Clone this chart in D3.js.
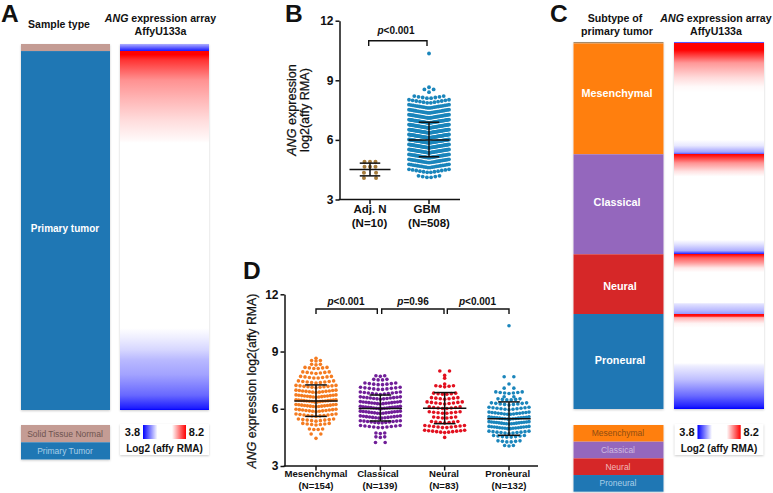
<!DOCTYPE html>
<html><head><meta charset="utf-8">
<script src="https://cdn.jsdelivr.net/npm/d3@7"></script>
<style>
html,body{margin:0;padding:0;background:#fff}
svg{display:block}
text{font-family:"Liberation Sans",Arial,sans-serif;fill:#111}
.axis path,.axis line{stroke:#111;stroke-width:1.5px}
.axis text{font-family:"Liberation Sans",Arial,sans-serif;font-weight:700;font-size:12px;fill:#111}
</style></head><body>
<svg id="c" width="773" height="493"></svg>
<script>
// ---------- Data ----------
const axisTicks = [3, 6, 9, 12];

const sampleCountsA = [10, 508];
const sampleNamesA = ["Solid Tissue Normal", "Primary Tumor"];
const heatRanksA  = [0, 9.9, 10, 15, 23, 51, 79, 108, 136, 140, 402, 416, 433, 447, 468, 497, 515.5, 518];
const heatValuesA = [5.3, 4.0, 8.2, 8.2, 7.75, 6.95, 6.62, 6.3, 6.05, 6.0, 6.0, 5.85, 5.65, 5.4, 5.2, 4.7, 4.05, 3.8];

const subtypeNames = ["Mesenchymal", "Classical", "Neural", "Proneural"];
const subtypeCountsC = [2, 154, 139, 83, 132];
const heatRanksC = [0, 1.9, 2, 11, 29, 49, 62, 70, 136, 144, 153, 155.9,
  156, 159, 168, 180, 187, 275, 281, 290, 294.9,
  295, 300, 307, 314, 320, 362, 364, 373, 377.9,
  378, 381, 383, 391, 397, 446, 450, 469, 492, 506, 510];
const heatValuesC = [5.0, 3.8, 8.2, 8.2, 6.9, 6.33, 6.05, 6.0, 6.0, 5.8, 5.2, 4.5,
  8.2, 7.9, 6.95, 6.25, 6.0, 6.0, 5.75, 5.3, 4.0,
  8.2, 7.4, 6.85, 6.2, 6.0, 6.0, 5.75, 5.4, 5.1,
  8.2, 8.0, 6.7, 6.1, 6.0, 6.0, 5.85, 5.45, 4.7, 4.1, 3.8];

const groupsB = ["Adj. N", "GBM"];
const groupNB = ["(N=10)", "(N=508)"];
const adjLevels = [4.08, 4.35, 4.65, 4.9];
const adjCounts = [2, 2, 3, 3];
const gbmLevels = [4.1,4.35,4.6,4.85,5.1,5.35,5.6,5.85,6.1,6.35,6.6,6.85,7.1,7.35,7.6,7.85,8.08,8.4,8.5,8.65,10.35];
const gbmCounts = [6,12,20,26,32,40,44,48,49,46,42,38,34,26,20,12,8,1,2,1,1];
const meansB = [4.51, 5.99];
const upperB = [4.83, 6.89];
const lowerB = [4.19, 5.15];

const groupsD = ["Mesenchymal", "Classical", "Neural", "Proneural"];
const groupND = ["(N=154)", "(N=139)", "(N=83)", "(N=132)"];
const mesLevels = [4.45,4.65,4.9,5.15,5.35,5.6,5.85,6.1,6.35,6.6,6.85,7.1,7.35,7.6,7.85,8.1,8.3,8.5,8.65];
const mesCounts = [1,2,4,7,9,11,13,15,16,15,13,11,9,8,7,6,3,3,1];
const claLevels = [4.2,4.5,4.7,5.0,5.25,5.5,5.75,6.0,6.25,6.5,6.75,7.0,7.25,7.5,7.7];
const claCounts = [2,3,3,10,12,14,15,16,15,13,11,10,8,4,3];
const neuLevels = [4.5,4.75,5.0,5.25,5.5,5.75,6.0,6.25,6.5,6.75,7.15,7.3,7.6,7.75,7.95];
const neuCounts = [1,11,10,7,6,8,8,9,7,6,5,1,1,1,2];
const proLevels = [4.05,4.25,4.5,4.7,4.95,5.2,5.45,5.7,5.95,6.2,6.45,6.6,6.8,7.05,7.3,7.65,10.35];
const proCounts = [3,6,8,11,16,17,16,14,11,9,6,2,7,2,1,2,1];
const meansD = [6.41, 6.02, 6.03, 5.48];
const upperD = [7.25, 6.72, 6.85, 6.36];
const lowerD = [5.60, 5.36, 5.22, 4.61];

// ---------- Styles ----------
const subtypeFill = ["#ff7f0e", "#9467bd", "#d62728", "#1f77b4"];
const dotFillB = ["#a67c3c", "#1a85bb"];
const dotFillD = ["#f47b20", "#701e98", "#e2101f", "#1a85bb"];
const soft = "drop-shadow(0 1px 1px rgba(0,0,0,.2))";

const svg = d3.select("#c");
const defs = svg.append("defs");
const heatColor = d3.scaleLinear().domain([3.8, 6.0, 8.2]).range(["#0000ff", "#ffffff", "#ff0000"]).clamp(true);

function label(x, y, parts, size, opts = {}) {
  const t = svg.append("text").attr("x", x).attr("y", y)
    .attr("text-anchor", opts.anchor || "middle").attr("font-size", size)
    .attr("font-weight", opts.weight || 700).style("fill", opts.fill || "#111");
  if (opts.rotate) t.attr("transform", `rotate(-90 ${x} ${y})`);
  if (opts.stroke) t.style("stroke", opts.fill || "#111").style("stroke-width", opts.stroke);
  parts.forEach(p => {
    const s = t.append("tspan").text(p[0]);
    if (p[1]) s.attr("font-style", "italic");
  });
  return t;
}

function card(x, y0, w, y1) {
  svg.append("rect").attr("x", x).attr("y", y0).attr("width", w).attr("height", y1 - y0).attr("fill", "#fff").style("filter", soft);
}

function heatTrack(id, x, w, y0, y1, ranks, values) {
  card(x, y0, w, y1);
  const total = ranks[ranks.length - 1];
  const g = defs.append("linearGradient").attr("id", id).attr("x1", 0).attr("x2", 0).attr("y1", 0).attr("y2", 1);
  ranks.forEach((r, i) => g.append("stop").attr("offset", r / total).attr("stop-color", heatColor(values[i])));
  svg.append("rect").attr("x", x).attr("y", y0).attr("width", w).attr("height", y1 - y0).attr("fill", `url(#${id})`);
}

function stacked(x, w, y0, y1, counts, fills) {
  card(x, y0, w, y1);
  const y = d3.scaleLinear().domain([0, d3.sum(counts)]).range([y0, y1]);
  let c = 0;
  const out = [];
  counts.forEach((n, i) => {
    svg.append("rect").attr("x", x).attr("width", w).attr("y", y(c)).attr("height", y(c + n) - y(c)).attr("fill", fills[i]);
    out.push((y(c) + y(c + n)) / 2);
    c += n;
  });
  return out;
}

function heatLegend(id, cardX, xLow, xHigh) {
  card(cardX, 424, 89, 455);
  const low = defs.append("linearGradient").attr("id", id + "l");
  [3.8, 6.0].forEach((v, i) => low.append("stop").attr("offset", i).attr("stop-color", heatColor(v)));
  const high = defs.append("linearGradient").attr("id", id + "h");
  [6.0, 8.2].forEach((v, i) => high.append("stop").attr("offset", i).attr("stop-color", heatColor(v)));
  svg.append("rect").attr("x", xLow).attr("y", 425).attr("width", 14.5).attr("height", 14).attr("fill", `url(#${id}l)`);
  svg.append("rect").attr("x", xHigh).attr("y", 425).attr("width", 14).attr("height", 14).attr("fill", `url(#${id}h)`);
  label(xLow - 10.5, 436, [["3.8"]], 11);
  label(xHigh + 24.5, 436, [["8.2"]], 11);
  label(cardX + 44.5, 452, [["Log2 (affy RMA)"]], 10);
}

// Panel A
label(1, 22, [["A"]], 24.5, {anchor: "start"});
label(59, 28, [["Sample type"]], 10.5);
label(160.5, 22, [["ANG", true], [" expression array"]], 10.6);
label(160.5, 35, [["AffyU133a"]], 10.6);
stacked(21, 89, 44, 410, sampleCountsA, ["#c49c94", "#1f77b4"]);
heatTrack("hA", 120, 89, 44, 410, heatRanksA, heatValuesA);
label(65, 232, [["Primary tumor"]], 10, {fill: "#fff"});
stacked(21, 89, 425, 459.5, [1, 1], ["#c49c94", "#1f77b4"]);
label(65, 437, [[sampleNamesA[0]]], 8.5, {weight: 400, fill: "#6e5450"});
label(65, 453.5, [[sampleNamesA[1]]], 8.5, {weight: 400, fill: "#a9cfe8"});
heatLegend("la", 120, 143, 172);

// Panel C
label(550, 22, [["C"]], 24.5, {anchor: "start"});
label(615, 22, [["Subtype of"]], 10.6);
label(617, 35, [["primary tumor"]], 10.6);
label(716, 22, [["ANG", true], [" expression array"]], 10.6);
label(716, 35, [["AffyU133a"]], 10.6);
stacked(573.5, 90, 42, 409, subtypeCountsC, ["#a58a6a"].concat(subtypeFill));
heatTrack("hC", 674, 90, 42, 409, heatRanksC, heatValuesC);
const nameX = [617, 617, 620, 620], nameY = [96.5, 205.5, 289.5, 363.5];
subtypeNames.forEach((n, i) => label(nameX[i], nameY[i], [[n]], 10.8, {fill: "#fff"}));
const legY = stacked(573.5, 90, 425, 491.7, [1, 1, 1, 1], subtypeFill);
const legInk = ["#8f4d12", "#cdbbe0", "#f2b9ba", "#a9cfe8"];
subtypeNames.forEach((n, i) => label(618, legY[i] + 3, [[n]], 8.5, {weight: 400, fill: legInk[i]}));
heatLegend("lc", 674.5, 697.5, 726.7);

// Swarm helpers
function swarmPoints(levels, counts, dx, maxW) {
  const pts = [];
  levels.forEach((v, k) => {
    const n = counts[k];
    const d = n === 2 ? dx * 2.2 : n > 1 ? Math.min(dx, maxW / (n - 1)) : 0;
    for (let i = 0; i < n; i++) pts.push({v, off: (i - (n - 1) / 2) * d});
  });
  return pts;
}
function swarm(cx, y, levels, counts, fill, r, dx, maxW, curve) {
  svg.append("g").selectAll("circle").data(swarmPoints(levels, counts, dx, maxW)).join("circle")
    .attr("cx", d => cx + d.off).attr("cy", d => y(d.v) - curve * Math.abs(d.off))
    .attr("r", r).attr("fill", fill);
}
function errorBars(cx, y, mean, up, low, half) {
  const g = svg.append("g").attr("stroke", "#111").attr("stroke-width", 1.5);
  g.append("line").attr("x1", cx - half).attr("x2", cx + half).attr("y1", y(mean)).attr("y2", y(mean));
  [up, low].forEach(v => g.append("line").attr("x1", cx - half / 2).attr("x2", cx + half / 2).attr("y1", y(v)).attr("y2", y(v)));
  g.append("line").attr("x1", cx).attr("x2", cx).attr("y1", y(up)).attr("y2", y(low));
}
function bracket(x0, x1, yTop, yEnd) {
  svg.append("path").attr("d", `M${x0},${yEnd}V${yTop}H${x1}V${yEnd}`).attr("fill", "none").attr("stroke", "#111").attr("stroke-width", 1.4);
}
function axes(x0, x1, yScale, xScale, groups) {
  svg.append("g").attr("class", "axis").attr("transform", `translate(${x0},0)`)
    .call(d3.axisLeft(yScale).tickValues(axisTicks).tickSize(4).tickPadding(2).tickSizeOuter(0));
  svg.append("line").attr("x1", x0 - 0.75).attr("x2", x1).attr("y1", yScale(3)).attr("y2", yScale(3)).attr("stroke", "#111").attr("stroke-width", 1.5);
  groups.forEach(g => svg.append("line").attr("x1", xScale(g)).attr("x2", xScale(g)).attr("y1", yScale(3)).attr("y2", yScale(3) + 4.5).attr("stroke", "#111").attr("stroke-width", 1.5));
}

// Panel B
label(285, 22, [["B"]], 24.5, {anchor: "start"});
const yB = d3.scaleLinear().domain([3, 12]).range([199.5, 20.7]);
const xB = d3.scalePoint().domain(groupsB).range([370, 429]);
axes(339.5, 460, yB, xB, groupsB);
swarm(xB(groupsB[0]), yB, adjLevels, adjCounts, dotFillB[0], 2, 5.5, 40, 0);
swarm(xB(groupsB[1]), yB, gbmLevels, gbmCounts, dotFillB[1], 1.9, 4.2, 40, 0.17);
groupsB.forEach((g, i) => errorBars(xB(g), yB, meansB[i], upperB[i], lowerB[i], 20.5));
bracket(368.7, 427, 40.7, 46);
label(396, 34, [["p", true], ["<0.001"]], 10);
label(296, 110, [["ANG", true], [" expression"]], 12.6, {weight: 400, rotate: true, stroke: 0.25});
label(309, 110, [["log2(affy RMA)"]], 12.6, {weight: 400, rotate: true, stroke: 0.25});
label(370, 213, [[groupsB[0]]], 11.5);
label(369.5, 227, [[groupNB[0]]], 11.5);
label(427, 213, [[groupsB[1]]], 11.5);
label(429, 227, [[groupNB[1]]], 11.5);

// Panel D
label(243, 279, [["D"]], 24.5, {anchor: "start"});
const yD = d3.scaleLinear().domain([3, 12]).range([466, 294.3]);
const xD = d3.scalePoint().domain(groupsD).range([316, 509]);
axes(284.5, 538, yD, xD, groupsD);
const swarmLevels = [mesLevels, claLevels, neuLevels, proLevels];
const swarmCounts = [mesCounts, claCounts, neuCounts, proCounts];
groupsD.forEach((g, i) => {
  swarm(xD(g), yD, swarmLevels[i], swarmCounts[i], dotFillD[i], 1.8, 4.4, 40, 0.12);
  errorBars(xD(g), yD, meansD[i], upperD[i], lowerD[i], 21.7);
});
bracket(316, 377.3, 309, 314);
bracket(381.7, 444, 309, 314);
bracket(447.3, 509, 309, 314);
label(346, 304.5, [["p", true], ["<0.001"]], 10);
label(413, 304.5, [["p", true], ["=0.96"]], 10);
label(477.5, 304.5, [["p", true], ["<0.001"]], 10);
label(256, 381, [["ANG", true], [" expression log2(affy RMA)"]], 12.3, {weight: 400, rotate: true, stroke: 0.25});
[316, 378, 444, 507.7].forEach((x, i) => label(x, 476.5, [[groupsD[i]]], 9.6));
[316, 380, 444, 509].forEach((x, i) => label(x, 488.5, [[groupND[i]]], 9.6));
</script>
</body></html>
